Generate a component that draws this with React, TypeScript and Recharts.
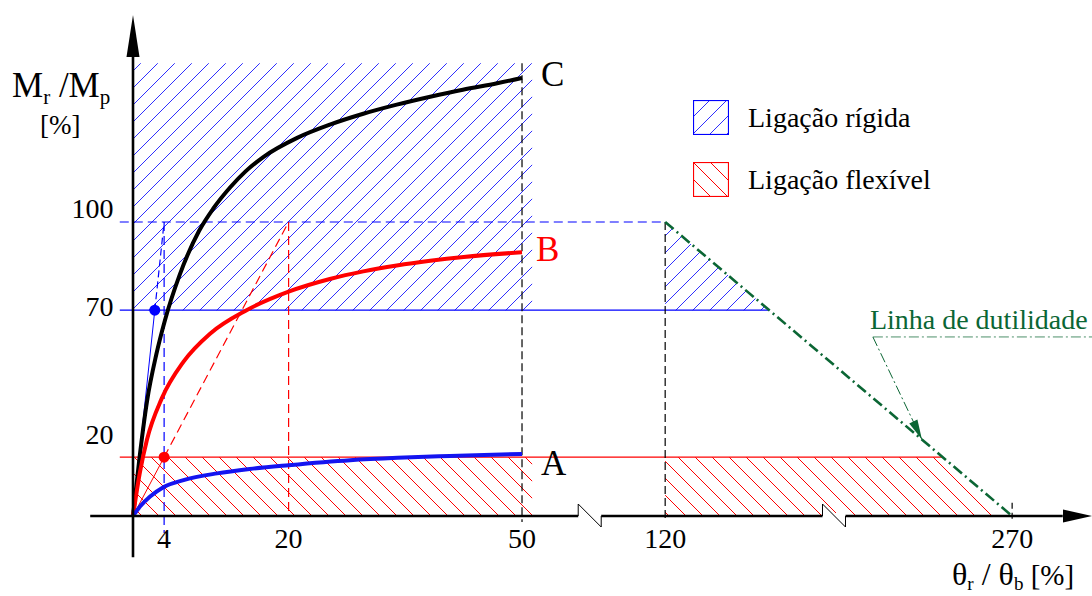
import {
  ComposedChart,
  Line,
  Area,
  XAxis,
  YAxis,
  ReferenceLine,
  ReferenceArea,
  ReferenceDot,
  Legend,
} from 'recharts';

const FONT = '"Liberation Serif", "Times New Roman", serif';
const BLUE = '#0000ff';
const RED = '#ff0000';
const GREEN = '#0b6634';

// Curve C (rigid connection), values in %
const C_X = [0, 0.8, 1.8, 3, 4.1, 6, 8.5, 10.3, 12.5, 14.5, 16.7, 21.1, 25.3, 29.6, 33.9, 38.2, 42.4, 46.8, 50];
const C_Y = [0, 19, 39, 55, 66.5, 82, 97, 104.5, 111.8, 117.3, 122, 128.6, 133.1, 136.8, 139.9, 142.6, 145, 147.2, 149];

// Curve B (semi-rigid)
const B_X = [0, 0.9, 1.8, 3.7, 6.5, 9.9, 14.6, 20, 25.3, 29.6, 33.9, 38.2, 42.5, 50];
const B_Y = [0, 15, 26, 40, 52.5, 62, 70, 76.3, 80.6, 83.2, 85.2, 86.8, 88.1, 89.7];

// Curve A (flexible)
const A_X = [0, 0.9, 2.2, 3.9, 6.5, 10.8, 15, 20, 27.9, 34, 40.7, 50];
const A_Y = [0, 3.2, 6.6, 9.8, 12.2, 14.5, 16, 17.3, 19, 19.8, 20.4, 21.1];

// ductility line
const DUCT_X = [120, 270];
const DUCT_Y = [100, 0];

// hatched zones beyond the break (range areas)
const RIGID_TRI_X = [120, 165];
const RIGID_TRI_LO = [70, 70];
const RIGID_TRI_HI = [100, 70];
const FLEX_TRAP_X = [120, 240, 265];
const FLEX_TRAP_LO = [0, 0, 0];
const FLEX_TRAP_HI = [20, 20, 0];

// secant stiffness lines
const BLUE_SECANT_X = [0, 2.8, 4];
const BLUE_SECANT_Y = [0, 70, 100];
const RED_SECANT_X = [0, 4, 20];
const RED_SECANT_Y = [0, 20, 100];

const X_TICKS = [4, 20, 50, 120, 270];
const Y_TICKS = [20, 70, 100];
const LEGEND_LABELS = ['Ligação rígida', 'Ligação flexível'];

// x axis is broken between 50 and 120, the part 120..270 is squeezed
const bx = (x: number) => (x < 120 ? x : 68.4 + (x - 120) * 0.2973);

const pts = (xs: number[], ys: number[]) => xs.map((x, i) => ({ x: bx(x), y: ys[i] }));
const range = (xs: number[], lo: number[], hi: number[]) =>
  xs.map((x, i) => ({ x: bx(x), y: [lo[i], hi[i]] }));

const curveC = pts(C_X, C_Y);
const curveB = pts(B_X, B_Y);
const curveA = pts(A_X, A_Y);
const ductility = pts(DUCT_X, DUCT_Y);
const rigidTri = range(RIGID_TRI_X, RIGID_TRI_LO, RIGID_TRI_HI);
const flexTrap = range(FLEX_TRAP_X, FLEX_TRAP_LO, FLEX_TRAP_HI);
const blueSecant = pts(BLUE_SECANT_X, BLUE_SECANT_Y);
const redSecant = pts(RED_SECANT_X, RED_SECANT_Y);

const Y_TICK_SHIFT: Record<number, number> = { 100: -13.5, 70: -3.5, 20: -23 };

function YTick(props: any) {
  const { x, y, payload } = props;
  return (
    <text
      x={x}
      y={y + (Y_TICK_SHIFT[payload.value] ?? 0)}
      textAnchor="end"
      dominantBaseline="central"
      fontSize={28}
      fontFamily={FONT}
      fill="#000"
    >
      {payload.value}
    </text>
  );
}

function YTitle() {
  return (
    <g fontFamily={FONT} fill="#000">
      <text x={12} y={97} fontSize={35}>
        M<tspan fontSize={21} dy={7}>r</tspan>
        <tspan fontSize={35} dy={-7}> /M</tspan>
        <tspan fontSize={21} dy={7}>p</tspan>
      </text>
      <text x={40} y={134} fontSize={27}>[%]</text>
    </g>
  );
}

function XTitle() {
  return (
    <text x={952} y={585} fontFamily={FONT} fontSize={32} fill="#000">
      θ<tspan fontSize={19} dy={5}>r</tspan>
      <tspan fontSize={32} dy={-5}> / θ</tspan>
      <tspan fontSize={19} dy={5}>b</tspan>
      <tspan fontSize={29} dy={-5}> [%]</tspan>
    </text>
  );
}

const textMark = (txt: string, dx: number, dy: number, color: string, size: number) => (p: any) => (
  <text x={p.cx + dx} y={p.cy + dy} fill={color} fontSize={size} fontFamily={FONT}>
    {txt}
  </text>
);

// axis break zigzag, drawn over the axis line
const axisBreak = (p: any) => (
  <g>
    <rect x={p.cx - 11.5} y={p.cy - 3} width={23} height={6} fill="#fff" />
    <path
      d={`M${p.cx - 11.5},${p.cy} V${p.cy - 12} L${p.cx + 11.5},${p.cy + 11} V${p.cy}`}
      stroke="#000"
      strokeWidth={1}
      fill="none"
    />
  </g>
);

const arrowUp = (p: any) => (
  <polygon points={`${p.cx},${p.cy} ${p.cx - 6.5},${p.cy + 42} ${p.cx + 6.5},${p.cy + 42}`} fill="#000" />
);
const arrowRight = (p: any) => (
  <polygon points={`${p.cx},${p.cy} ${p.cx - 29},${p.cy - 6.5} ${p.cx - 29},${p.cy + 6.5}`} fill="#000" />
);
const leaderHead = (p: any) => (
  <polygon
    points={`${p.cx},${p.cy} ${p.cx - 4.5},${p.cy - 20} ${p.cx - 12.7},${p.cy - 16}`}
    fill={GREEN}
  />
);

function HatchLegend() {
  const fills = ['url(#hatchBlue)', 'url(#hatchRed)'];
  const strokes = [BLUE, RED];
  return (
    <div style={{ fontFamily: FONT, fontSize: 28, color: '#000' }}>
      {LEGEND_LABELS.map((label, i) => (
        <div key={label} style={{ display: 'flex', alignItems: 'center', height: 35, marginBottom: 27 }}>
          <svg width={36} height={35}>
            <rect x={0.5} y={0.5} width={35} height={34} fill={fills[i]} stroke={strokes[i]} strokeWidth={1.2} />
          </svg>
          <span style={{ marginLeft: 19, lineHeight: '35px', whiteSpace: 'nowrap' }}>{label}</span>
        </div>
      ))}
    </div>
  );
}

const dash = '9 5';
const dashDot = '11 4 2 4';

export default function App() {
  const leaderStart = { x: bx(209.8), y: 60.9 };
  const leaderTip = { x: bx(231), y: 26 };
  return (
    <div style={{ position: 'absolute', left: 0, top: 0, width: 1092, height: 596, background: '#fff' }}>
      <ComposedChart width={1092} height={596} margin={{ top: 15, right: 0, bottom: 0, left: 0 }}>
        <defs>
          <pattern id="hatchBlue" patternUnits="userSpaceOnUse" width={17} height={17}>
            <path d="M-2,2 L2,-2 M0,17 L17,0 M15,19 L19,15" stroke="#2f2fff" strokeWidth={1} />
          </pattern>
          <pattern id="hatchRed" patternUnits="userSpaceOnUse" width={17} height={17}>
            <path d="M-2,15 L2,19 M0,0 L17,17 M15,-2 L19,2" stroke={RED} strokeWidth={1} />
          </pattern>
        </defs>
        <XAxis
          type="number"
          dataKey="x"
          domain={[-2, 123.26]}
          allowDataOverflow
          ticks={X_TICKS.map(bx)}
          tickFormatter={(_v: number, i: number) => String(X_TICKS[i])}
          interval={0}
          axisLine={false}
          tickLine={false}
          tickSize={0}
          tickMargin={12}
          height={80}
          tick={{ fontSize: 28, fontFamily: FONT, fill: '#000' }}
          label={<XTitle />}
        />
        <YAxis
          type="number"
          domain={[0, 170.4]}
          allowDataOverflow
          ticks={Y_TICKS}
          interval={0}
          width={117.44}
          axisLine={false}
          tickLine={false}
          tickSize={0}
          tickMargin={4}
          tick={<YTick />}
          label={<YTitle />}
        />

        {/* hatched zones */}
        <ReferenceArea x1={0} x2={51.3} y1={70} y2={154} fill="url(#hatchBlue)" fillOpacity={1} stroke="none" />
        <ReferenceArea x1={0} x2={51.3} y1={0} y2={20} fill="url(#hatchRed)" fillOpacity={1} stroke="none" />
        <Area data={rigidTri} dataKey="y" type="linear" fill="url(#hatchBlue)" fillOpacity={1} stroke="none" isAnimationActive={false} />
        <Area data={flexTrap} dataKey="y" type="linear" fill="url(#hatchRed)" fillOpacity={1} stroke="none" isAnimationActive={false} />

        {/* guide lines */}
        <ReferenceLine segment={[{ x: -1.7, y: 100 }, { x: bx(120), y: 100 }]} stroke={BLUE} strokeWidth={1.2} strokeDasharray={dash} ifOverflow="visible" />
        <ReferenceLine segment={[{ x: -1.7, y: 70 }, { x: bx(165), y: 70 }]} stroke={BLUE} strokeWidth={1.2} ifOverflow="visible" />
        <ReferenceLine segment={[{ x: -1.7, y: 20 }, { x: bx(240), y: 20 }]} stroke={RED} strokeWidth={1.2} ifOverflow="visible" />
        <ReferenceLine segment={[{ x: 4, y: 100 }, { x: 4, y: -5.8 }]} stroke={BLUE} strokeWidth={1.2} strokeDasharray={dash} ifOverflow="visible" />
        <ReferenceLine segment={[{ x: 20, y: 100 }, { x: 20, y: 0 }]} stroke={RED} strokeWidth={1.2} strokeDasharray={dash} ifOverflow="visible" />
        <ReferenceLine segment={[{ x: 50, y: 154 }, { x: 50, y: -2 }]} stroke="#000" strokeWidth={1.2} strokeDasharray="8 4" ifOverflow="visible" />
        <ReferenceLine segment={[{ x: bx(120), y: 100 }, { x: bx(120), y: -2 }]} stroke="#000" strokeWidth={1.2} strokeDasharray="8 4" ifOverflow="visible" />
        <ReferenceLine segment={[{ x: bx(270), y: 4.5 }, { x: bx(270), y: -2 }]} stroke="#000" strokeWidth={1.2} strokeDasharray="6 4" ifOverflow="visible" />

        {/* secants */}
        <Line data={blueSecant.slice(0, 2)} dataKey="y" type="linear" stroke={BLUE} strokeWidth={1} dot={false} isAnimationActive={false} />
        <Line data={blueSecant.slice(1)} dataKey="y" type="linear" stroke={BLUE} strokeWidth={1.2} strokeDasharray="7 4" dot={false} isAnimationActive={false} />
        <Line data={redSecant.slice(0, 2)} dataKey="y" type="linear" stroke={RED} strokeWidth={1} dot={false} isAnimationActive={false} />
        <Line data={redSecant.slice(1)} dataKey="y" type="linear" stroke={RED} strokeWidth={1.2} strokeDasharray="9 5" dot={false} isAnimationActive={false} />

        {/* ductility line and leader */}
        <Line data={ductility} dataKey="y" type="linear" stroke={GREEN} strokeWidth={2.6} strokeDasharray={dashDot} dot={false} isAnimationActive={false} />
        <ReferenceLine segment={[leaderStart, { x: 123.26, y: leaderStart.y }]} stroke="#4d8f6a" strokeWidth={1} strokeDasharray="10 3 2 3" ifOverflow="visible" />
        <ReferenceLine segment={[leaderStart, leaderTip]} stroke={GREEN} strokeWidth={1} strokeDasharray="10 3 2 3" ifOverflow="visible" />
        <ReferenceDot x={leaderTip.x} y={leaderTip.y} r={0} shape={leaderHead} ifOverflow="visible" />
        <ReferenceDot x={leaderStart.x} y={leaderStart.y} r={0} shape={textMark('Linha de dutilidade', -3, -8, GREEN, 28)} ifOverflow="visible" />

        {/* moment-rotation curves */}
        <Line data={curveC} dataKey="y" type="monotone" stroke="#000" strokeWidth={4} dot={false} isAnimationActive={false} />
        <Line data={curveB} dataKey="y" type="monotone" stroke={RED} strokeWidth={4} dot={false} isAnimationActive={false} />
        <Line data={curveA} dataKey="y" type="monotone" stroke="#1414f0" strokeWidth={4} dot={false} isAnimationActive={false} />

        <ReferenceDot x={curveC[curveC.length - 1].x} y={curveC[curveC.length - 1].y} r={0} shape={textMark('C', 19, 8, '#000', 35)} ifOverflow="visible" />
        <ReferenceDot x={curveB[curveB.length - 1].x} y={curveB[curveB.length - 1].y} r={0} shape={textMark('B', 14, 9, RED, 35)} ifOverflow="visible" />
        <ReferenceDot x={curveA[curveA.length - 1].x} y={curveA[curveA.length - 1].y} r={0} shape={textMark('A', 19, 21, '#000', 35)} ifOverflow="visible" />

        <ReferenceDot x={blueSecant[1].x} y={blueSecant[1].y} r={5.5} fill={BLUE} stroke="none" ifOverflow="visible" />
        <ReferenceDot x={redSecant[1].x} y={redSecant[1].y} r={5.5} fill={RED} stroke="none" ifOverflow="visible" />

        {/* axes with arrows and breaks */}
        <ReferenceLine segment={[{ x: 0, y: -14 }, { x: 0, y: 156.5 }]} stroke="#000" strokeWidth={2.6} ifOverflow="visible" />
        <ReferenceDot x={0} y={170.4} r={0} shape={arrowUp} ifOverflow="visible" />
        <ReferenceLine segment={[{ x: -5.5, y: 0 }, { x: 119.5, y: 0 }]} stroke="#000" strokeWidth={2.6} ifOverflow="visible" />
        <ReferenceDot x={123.26} y={0} r={0} shape={arrowRight} ifOverflow="visible" />
        <ReferenceDot x={58.7} y={0} r={0} shape={axisBreak} ifOverflow="visible" />
        <ReferenceDot x={90.1} y={0} r={0} shape={axisBreak} ifOverflow="visible" />

        <Legend
          layout="vertical"
          align="center"
          verticalAlign="middle"
          content={<HatchLegend />}
          wrapperStyle={{ left: 693, top: 100, width: 'auto' }}
        />
      </ComposedChart>
    </div>
  );
}
